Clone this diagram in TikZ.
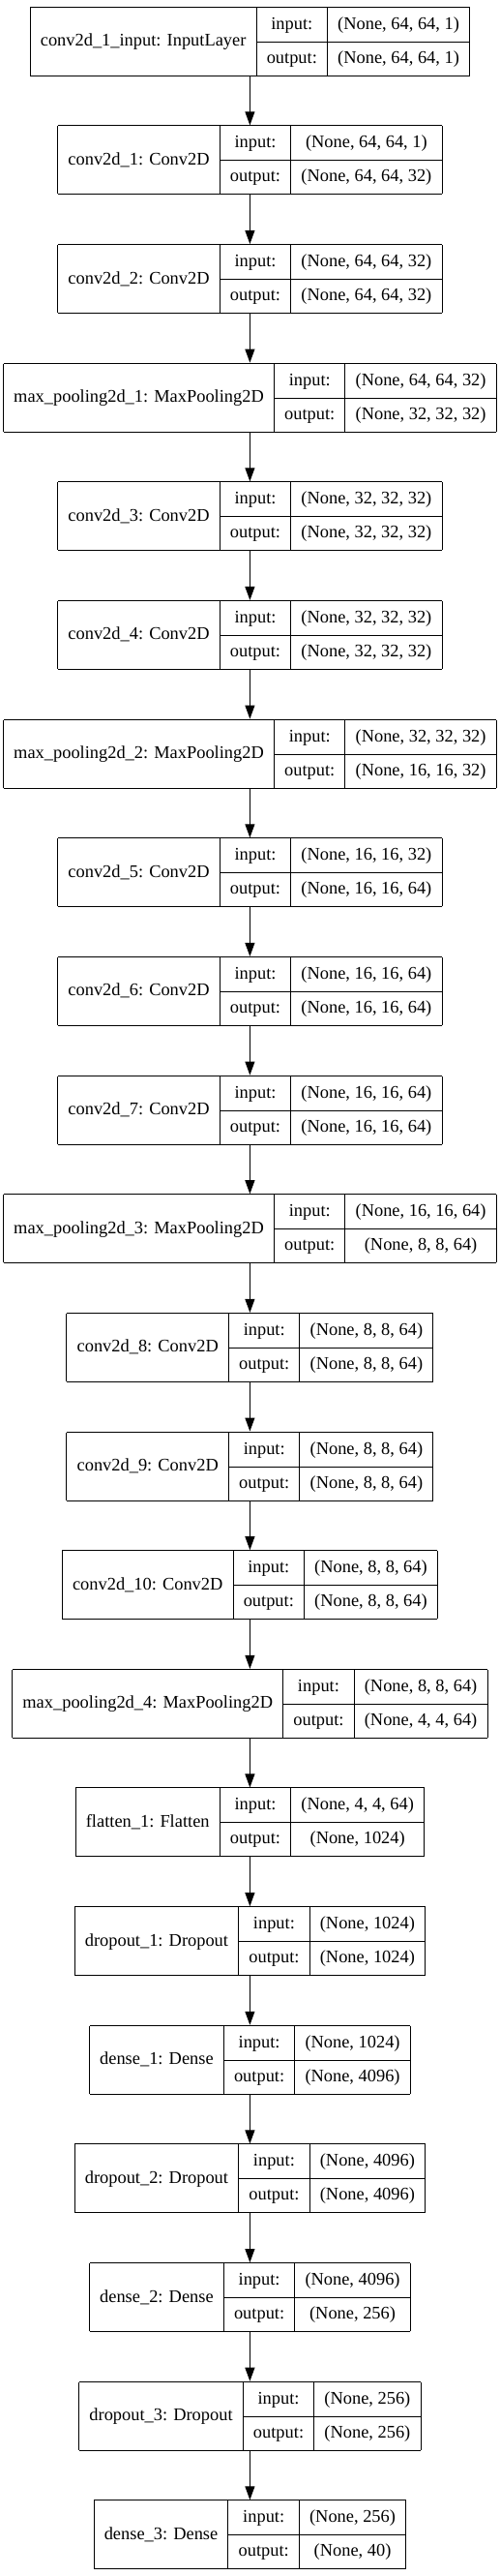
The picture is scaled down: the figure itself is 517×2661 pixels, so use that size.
\documentclass[tikz,border=0pt]{standalone}
\usepackage{fontspec}
\setmainfont{Liberation Serif}
\usepackage{tikz}
\usetikzlibrary{arrows.meta, calc}

\setlength{\tabcolsep}{10.67bp}
\setlength{\arrayrulewidth}{1bp}
\newcommand{\cellstrut}{\rule[-12.5bp]{0pt}{35bp}}

\tikzset{
  layer/.style = {inner sep=0pt, outer sep=0pt, font=\fontsize{18.4bp}{22bp}\selectfont},
  flow/.style = {line width=1bp, -{Triangle[length=14bp, width=10bp]}}
}

\providecommand{\Layer}[5]{%
  % #1 node name, #2 row, #3 title, #4 input shape, #5 output shape
  \edef\lrow{#2}%
  \pgfmathsetmacro{\ly}{-42.7 - \lrow*122.65}%
  \node[layer] (#1) at (258.4bp, \ly bp) {%
    \begin{tabular}{|c|c|c|}
      \hline
      \cellstrut\raisebox{-17.5bp}[0pt][0pt]{#3} & input: & #4\\ \cline{2-3}
      \cellstrut & output: & #5\\
      \hline
    \end{tabular}};
}

\begin{document}
\begin{tikzpicture}

	\useasboundingbox (0,0) rectangle (517bp,-2661bp);

	% feature extractor
	\Layer{inp}{0}{conv2d\_1\_input: InputLayer}{(None, 64, 64, 1)}{(None, 64, 64, 1)}
	\Layer{c1}{1}{conv2d\_1: Conv2D}{(None, 64, 64, 1)}{(None, 64, 64, 32)}
	\Layer{c2}{2}{conv2d\_2: Conv2D}{(None, 64, 64, 32)}{(None, 64, 64, 32)}
	\Layer{mp1}{3}{max\_pooling2d\_1: MaxPooling2D}{(None, 64, 64, 32)}{(None, 32, 32, 32)}
	\Layer{c3}{4}{conv2d\_3: Conv2D}{(None, 32, 32, 32)}{(None, 32, 32, 32)}
	\Layer{c4}{5}{conv2d\_4: Conv2D}{(None, 32, 32, 32)}{(None, 32, 32, 32)}
	\Layer{mp2}{6}{max\_pooling2d\_2: MaxPooling2D}{(None, 32, 32, 32)}{(None, 16, 16, 32)}
	\Layer{c5}{7}{conv2d\_5: Conv2D}{(None, 16, 16, 32)}{(None, 16, 16, 64)}
	\Layer{c6}{8}{conv2d\_6: Conv2D}{(None, 16, 16, 64)}{(None, 16, 16, 64)}
	\Layer{c7}{9}{conv2d\_7: Conv2D}{(None, 16, 16, 64)}{(None, 16, 16, 64)}
	\Layer{mp3}{10}{max\_pooling2d\_3: MaxPooling2D}{(None, 16, 16, 64)}{(None, 8, 8, 64)}
	\Layer{c8}{11}{conv2d\_8: Conv2D}{(None, 8, 8, 64)}{(None, 8, 8, 64)}
	\Layer{c9}{12}{conv2d\_9: Conv2D}{(None, 8, 8, 64)}{(None, 8, 8, 64)}
	\Layer{c10}{13}{conv2d\_10: Conv2D}{(None, 8, 8, 64)}{(None, 8, 8, 64)}
	\Layer{mp4}{14}{max\_pooling2d\_4: MaxPooling2D}{(None, 8, 8, 64)}{(None, 4, 4, 64)}

	% classifier
	\Layer{fl1}{15}{flatten\_1: Flatten}{(None, 4, 4, 64)}{(None, 1024)}
	\Layer{do1}{16}{dropout\_1: Dropout}{(None, 1024)}{(None, 1024)}
	\Layer{de1}{17}{dense\_1: Dense}{(None, 1024)}{(None, 4096)}
	\Layer{do2}{18}{dropout\_2: Dropout}{(None, 4096)}{(None, 4096)}
	\Layer{de2}{19}{dense\_2: Dense}{(None, 4096)}{(None, 256)}
	\Layer{do3}{20}{dropout\_3: Dropout}{(None, 256)}{(None, 256)}
	\Layer{de3}{21}{dense\_3: Dense}{(None, 256)}{(None, 40)}

	\foreach \a/\b in {inp/c1, c1/c2, c2/mp1, mp1/c3, c3/c4, c4/mp2, mp2/c5, c5/c6, c6/c7, c7/mp3,
		mp3/c8, c8/c9, c9/c10, c10/mp4, mp4/fl1, fl1/do1, do1/de1, de1/do2, do2/de2, de2/do3, do3/de3}
		\draw[flow] (\a) -- (\b);

\end{tikzpicture}
\end{document}
